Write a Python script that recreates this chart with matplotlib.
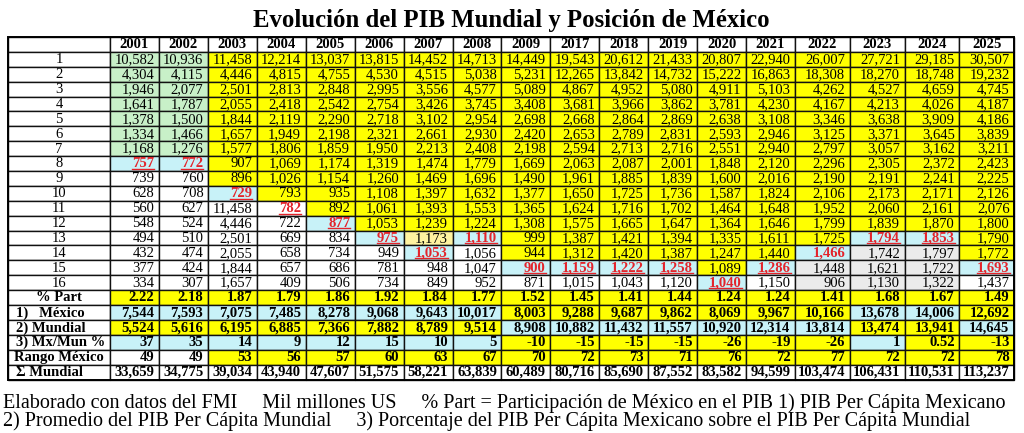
import numpy as np
import matplotlib.pyplot as plt
from matplotlib.patches import Rectangle

years = ['2001', '2002', '2003', '2004', '2005', '2006', '2007', '2008', '2009',
         '2017', '2018', '2019', '2020', '2021', '2022', '2023', '2024', '2025']

# PIB of the 16 largest economies, per year (mil millones US)
pib = {
    '2001': [10582, 4304, 1946, 1641, 1378, 1334, 1168, 757, 739, 628, 560, 548, 494, 432, 377, 334],
    '2002': [10936, 4115, 2077, 1787, 1500, 1466, 1276, 772, 760, 708, 627, 524, 510, 474, 424, 307],
    '2003': [11458, 4446, 2501, 2055, 1844, 1657, 1577, 907, 896, 729, 11458, 4446, 2501, 2055, 1844, 1657],
    '2004': [12214, 4815, 2813, 2418, 2119, 1949, 1806, 1069, 1026, 793, 782, 722, 669, 658, 657, 409],
    '2005': [13037, 4755, 2848, 2542, 2290, 2198, 1859, 1174, 1154, 935, 892, 877, 834, 734, 686, 506],
    '2006': [13815, 4530, 2995, 2754, 2718, 2321, 1950, 1319, 1260, 1108, 1061, 1053, 975, 949, 781, 734],
    '2007': [14452, 4515, 3556, 3426, 3102, 2661, 2213, 1474, 1469, 1397, 1393, 1239, 1173, 1053, 948, 849],
    '2008': [14713, 5038, 4577, 3745, 2954, 2930, 2408, 1779, 1696, 1632, 1553, 1224, 1110, 1056, 1047, 952],
    '2009': [14449, 5231, 5089, 3408, 2698, 2420, 2198, 1669, 1490, 1377, 1365, 1308, 999, 944, 900, 871],
    '2017': [19543, 12265, 4867, 3681, 2668, 2653, 2594, 2063, 1961, 1650, 1624, 1575, 1387, 1312, 1159, 1015],
    '2018': [20612, 13842, 4952, 3966, 2864, 2789, 2713, 2087, 1885, 1725, 1716, 1665, 1421, 1420, 1222, 1043],
    '2019': [21433, 14732, 5080, 3862, 2869, 2831, 2716, 2001, 1839, 1736, 1702, 1647, 1394, 1387, 1258, 1120],
    '2020': [20807, 15222, 4911, 3781, 2638, 2593, 2551, 1848, 1600, 1587, 1464, 1364, 1335, 1247, 1089, 1040],
    '2021': [22940, 16863, 5103, 4230, 3108, 2946, 2940, 2120, 2016, 1824, 1648, 1646, 1611, 1440, 1286, 1150],
    '2022': [26007, 18308, 4262, 4167, 3346, 3125, 2797, 2296, 2190, 2106, 1952, 1799, 1725, 1466, 1448, 906],
    '2023': [27721, 18270, 4527, 4213, 3638, 3371, 3057, 2305, 2191, 2173, 2060, 1839, 1794, 1742, 1621, 1130],
    '2024': [29185, 18748, 4659, 4026, 3909, 3645, 3162, 2372, 2241, 2171, 2161, 1870, 1853, 1797, 1722, 1322],
    '2025': [30507, 19232, 4745, 4187, 4186, 3839, 3211, 2423, 2225, 2126, 2076, 1800, 1790, 1772, 1693, 1437],
}

# row (1-based) where Mexico sits each year
mexico_row = [8, 8, 10, 11, 12, 13, 14, 13, 15, 15, 15, 15, 16, 15, 14, 13, 13, 15]

pct_part = [2.22, 2.18, 1.87, 1.79, 1.86, 1.92, 1.84, 1.77, 1.52, 1.45, 1.41, 1.44,
            1.24, 1.24, 1.41, 1.68, 1.67, 1.49]
pib_pc_mexico = [7544, 7593, 7075, 7485, 8278, 9068, 9643, 10017, 8003, 9288, 9687, 9862,
                 8069, 9967, 10166, 13678, 14006, 12692]
pib_pc_mundial = [5524, 5616, 6195, 6885, 7366, 7882, 8789, 9514, 8908, 10882, 11432, 11557,
                  10920, 12314, 13814, 13474, 13941, 14645]
mx_mun = [37, 35, 14, 9, 12, 15, 10, 5, -10, -15, -15, -15, -26, -19, -26, 1, 0.52, -13]
rango_mexico = [49, 49, 53, 56, 57, 60, 63, 67, 70, 72, 73, 71, 76, 72, 77, 72, 72, 78]
suma_mundial = [33659, 34775, 39034, 43940, 47607, 51575, 58221, 63839, 60489, 80716, 85690,
                87552, 83582, 94599, 103474, 106431, 110531, 113237]

summary_labels = ['% Part', '1)   México', '2) Mundial', '3) Mx/Mun %', 'Rango México', 'Σ Mundial']

# cell fills (style only)
palette = {'Y': '#ffff00', 'G': '#c8f0c8', 'C': '#c8f2f8', 'W': '#ffffff',
           'S': '#ebebeb', 'P': '#fff3a0'}
fill_top = {
    '2001': 'GGGGGGGCWWWWWWWW', '2002': 'GGGGGGGCWWWWWWWW',
    '2003': 'YYYYYYYYYCWWWWWW', '2004': 'YYYYYYYYYYWWWWWW',
    '2005': 'YYYYYYYYYYYCWWWW', '2006': 'YYYYYYYYYYYYCWWW',
    '2007': 'YYYYYYYYYYYYPCWW', '2008': 'YYYYYYYYYYYYCWWW',
    '2009': 'YYYYYYYYYYYYYYCW', '2017': 'YYYYYYYYYYYYYYCW',
    '2018': 'YYYYYYYYYYYYYYCW', '2019': 'YYYYYYYYYYYYYYCW',
    '2020': 'YYYYYYYYYYYYYYYC', '2021': 'YYYYYYYYYYYYYYCW',
    '2022': 'YYYYYYYYYYYYYCSS', '2023': 'YYYYYYYYYYYYCSSS',
    '2024': 'YYYYYYYYYYYYCSSS', '2025': 'YYYYYYYYYYYYYYCW',
}
fill_bottom = ['YYYYYYYYYYYYYYYYYY',
               'CCCCCCCCYYYYYYYCCY',
               'YYYYYYYYCCCCCCCYYC',
               'CCCCCCCCYYYYYYYCYY',
               'WWYYYYYYYYYYYYYYYY',
               'WWWWWWWWWWWWWWWWWW']
no_underline = {('2022', 14)}

RED = '#e3242b'
FONT = 'Liberation Serif'
FS = 10.5
DY = 0.4  # small downward nudge of cell text

fig = plt.figure(figsize=(10.24, 4.33), dpi=100)
ax = fig.add_axes([0, 0, 1, 1])
ax.set_xlim(0, 1024)
ax.set_ylim(433, 0)
ax.axis('off')

# layout of the grid (pixels)
x_left, x_lab = 8, 110
x_edges = [x_left, x_lab] + list(np.linspace(x_lab, 795, 15)[1:]) + list(np.linspace(795, 1014, 5)[1:])
y_top, y_bot = 37, 379.5
n_rows = 1 + 16 + 6
row_h = (y_bot - y_top) / n_rows
pad = 4.5


def cell(ci, ri, color):
    x0, x1 = x_edges[ci], x_edges[ci + 1]
    y0 = y_top + ri * row_h
    ax.add_patch(Rectangle((x0, y0), x1 - x0, row_h, facecolor=color,
                           edgecolor='#111111', linewidth=1.0))
    return x0, x1, y0 + row_h / 2


underline = []

# header
cell(0, 0, 'white')
for j, yr in enumerate(years):
    x0, x1, yc = cell(j + 1, 0, 'white')
    ax.text((x0 + x1) / 2, yc + DY, yr, ha='center', va='center', fontsize=FS,
            fontweight='bold', family=FONT)

# ranking rows
for i in range(16):
    x0, x1, yc = cell(0, i + 1, 'white')
    ax.text((x0 + x1) / 2, yc + DY, str(i + 1), ha='center', va='center', fontsize=FS, family=FONT)
    for j, yr in enumerate(years):
        x0, x1, yc = cell(j + 1, i + 1, palette[fill_top[yr][i]])
        is_mx = mexico_row[j] == i + 1
        t = ax.text(x1 - pad, yc + DY, f'{pib[yr][i]:,}', ha='right', va='center',
                    fontsize=FS, family=FONT, color=RED if is_mx else 'black',
                    fontweight='bold' if is_mx else 'normal')
        if is_mx and (yr, i + 1) not in no_underline:
            underline.append((t, yc))


def fmt_mx(v):
    return f'{v:.2f}' if v != int(v) else f'{int(v)}'


# summary rows
summary_vals = [[f'{v:.2f}' for v in pct_part],
                [f'{v:,}' for v in pib_pc_mexico],
                [f'{v:,}' for v in pib_pc_mundial],
                [fmt_mx(v) for v in mx_mun],
                [str(v) for v in rango_mexico],
                [f'{v:,}' for v in suma_mundial]]
label_ha = ['center', 'left', 'left', 'left', 'center', 'left']
for k, lab in enumerate(summary_labels):
    ri = 17 + k
    x0, x1, yc = cell(0, ri, 'white')
    lx = (x0 + x1) / 2 if label_ha[k] == 'center' else x0 + 8
    ax.text(lx, yc + DY, lab, ha=label_ha[k], va='center', fontsize=FS,
            fontweight='bold', family=FONT)
    for j in range(len(years)):
        x0, x1, yc = cell(j + 1, ri, palette[fill_bottom[k][j]])
        ax.text(x1 - pad, yc + DY, summary_vals[k][j], ha='right', va='center',
                fontsize=FS, fontweight='bold', family=FONT)

# outer frame
ax.add_patch(Rectangle((x_left, y_top), x_edges[-1] - x_left, y_bot - y_top,
                       facecolor='none', edgecolor='black', linewidth=1.4))

# underline Mexico's values
fig.canvas.draw()
inv = ax.transData.inverted()
for t, yc in underline:
    bb = t.get_window_extent()
    (xa, _), (xb, _) = inv.transform([[bb.x0, bb.y0], [bb.x1, bb.y1]])
    ax.plot([xa, xb], [yc + 5.3, yc + 5.3], color=RED, lw=1.0)

ax.text(511, 20, 'Evolución del PIB Mundial y Posición de México', ha='center', va='center',
        fontsize=17.8, fontweight='bold', family=FONT)

ax.text(3, 403, 'Elaborado con datos del FMI     Mil millones US     % Part = Participación de México '
        'en el PIB 1) PIB Per Cápita Mexicano', ha='left', va='center', fontsize=14.5, family=FONT)
ax.text(3, 421, '2) Promedio del PIB Per Cápita Mundial     3) Porcentaje del PIB Per Cápita '
        'Mexicano sobre el PIB Per Cápita Mundial', ha='left', va='center', fontsize=14.5, family=FONT)

fig.savefig('out.png', dpi=100)
